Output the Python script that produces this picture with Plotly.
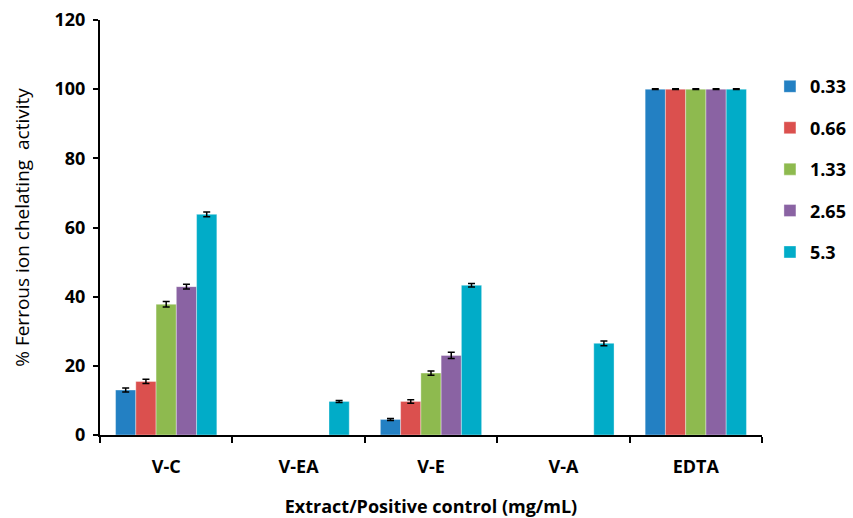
import plotly.graph_objects as go

categories = ["V-C", "V-EA", "V-E", "V-A", "EDTA"]
concentrations = ["0.33", "0.66", "1.33", "2.65", "5.3"]

# % ferrous ion chelating activity per concentration (mg/mL)
vals_033 = [13.0, None, 4.5, None, 100]
vals_066 = [15.5, None, 9.7, None, 100]
vals_133 = [37.8, None, 17.9, None, 100]
vals_265 = [42.9, None, 23.0, None, 100]
vals_53 = [63.8, 9.7, 43.3, 26.5, 100]

err_033 = [0.6, None, 0.3, None, 0.1]
err_066 = [0.6, None, 0.5, None, 0.1]
err_133 = [0.8, None, 0.6, None, 0.1]
err_265 = [0.7, None, 0.9, None, 0.1]
err_53 = [0.7, 0.3, 0.5, 0.7, 0.1]

series = [vals_033, vals_066, vals_133, vals_265, vals_53]
errors = [err_033, err_066, err_133, err_265, err_53]
colors = ["#2380C3", "#DB504E", "#8EBA4F", "#8A63A3", "#01ACC8"]

FONT = "'Open Sans', Lato, sans-serif"

fig = go.Figure()
for name, vals, errs, col in zip(concentrations, series, errors, colors):
    fig.add_trace(go.Bar(
        x=categories, y=vals, name=name,
        marker=dict(color=col, line=dict(color="rgba(255,255,255,0.6)", width=0.6)),
        error_y=dict(type="data", array=errs, visible=True,
                     color="black", thickness=1.5, width=3.5),
        legendgroup=name,
    ))

fig.update_layout(
    width=853, height=518,
    margin=dict(l=100, r=91, t=20, b=83, autoexpand=False),
    paper_bgcolor="white", plot_bgcolor="white",
    barmode="group", bargap=0.235, bargroupgap=0,
    font=dict(family=FONT, color="black"),
    showlegend=True,
    legend=dict(x=1.012, y=0.884, xanchor="left", yanchor="top",
                font=dict(size=18, family=FONT, color="black", weight="bold"),
                tracegroupgap=15, itemwidth=30, bgcolor="rgba(0,0,0,0)"),
    xaxis=dict(
        showline=True, linecolor="black", linewidth=2,
        ticks="outside", tickson="boundaries", ticklen=6, tickwidth=1.5,
        tickcolor="black", ticklabelstandoff=14,
        tickfont=dict(size=18, family=FONT, weight="bold"),
        title=dict(text="<b>Extract/Positive control (mg/mL)</b>",
                   font=dict(size=18, family=FONT), standoff=30),
        showgrid=False,
    ),
    yaxis=dict(
        range=[0, 120], dtick=20,
        showline=True, linecolor="black", linewidth=2,
        ticks="outside", ticklen=5, tickwidth=1.5, tickcolor="black",
        ticklabelstandoff=4,
        tickfont=dict(size=18, family=FONT, weight="bold"),
        title=dict(text="% Ferrous ion chelating  activity",
                   font=dict(size=19, family=FONT), standoff=20),
        showgrid=False, zeroline=False,
    ),
)

fig.write_html("out.html")
